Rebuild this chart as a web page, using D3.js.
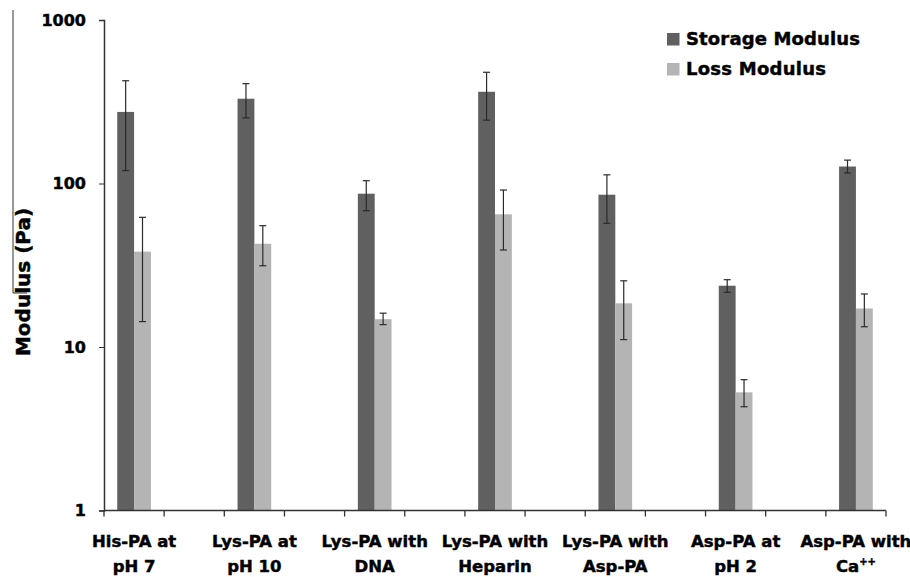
<!DOCTYPE html>
<html><head><meta charset="utf-8">
<script src="https://cdn.jsdelivr.net/npm/d3@7"></script>
<style>body{margin:0;background:#fff}svg{display:block}text{font-family:"DejaVu Sans",sans-serif;font-weight:bold;fill:#000;stroke:#000;stroke-width:0.45px}</style>
</head><body>
<svg id="c" width="910" height="577"></svg>
<script>
const categories = [["His-PA at","pH 7"],["Lys-PA at","pH 10"],["Lys-PA with","DNA"],["Lys-PA with","Heparin"],["Lys-PA with","Asp-PA"],["Asp-PA at","pH 2"],["Asp-PA with","Ca++"]];
const seriesNames = ["Storage Modulus","Loss Modulus"];
const storage = [274, 330, 86.6, 364, 85.4, 23.7, 127];
const storageLo = [120, 252, 68.2, 244, 57.1, 21.6, 116];
const storageHi = [425, 408, 104, 479, 113, 25.8, 139];
const loss = [38.3, 42.8, 14.8, 64.8, 18.5, 5.28, 17.2];
const lossLo = [14.3, 31.4, 13.7, 39.2, 11.1, 4.31, 13.3];
const lossHi = [62.1, 55.2, 16.1, 91.2, 25.4, 6.31, 21.1];
const yTicks = [1, 10, 100, 1000];
const colors = ["#606060", "#b4b4b4"];

const svg = d3.select("#c");
const slots = d3.range(categories.length * 2 - 1);
const x = d3.scaleBand().domain(slots).range([104, 886]).padding(0);
const y = d3.scaleLog().domain([1, 1000]).range([510.5, 20]);
const bw = x.bandwidth() * 0.28;

// frame artifact at left
svg.append("path").attr("d", "M13,10V293H27").attr("fill", "none").attr("stroke", "#333").attr("stroke-width", 1);

// bars
const series = [
  {vals: storage, lo: storageLo, hi: storageHi, off: -1},
  {vals: loss, lo: lossLo, hi: lossHi, off: 0}
];
series.forEach((s, si) => {
  const g = svg.append("g");
  s.vals.forEach((v, i) => {
    const cx = x(i * 2) + x.bandwidth() / 2;
    const x0 = cx + s.off * bw;
    g.append("rect").attr("x", x0).attr("width", bw).attr("y", y(v)).attr("height", y(1) - y(v)).attr("fill", colors[si]);
  });
});
series.forEach((s) => {
  const g = svg.append("g").attr("stroke", "#2a2a2a").attr("stroke-width", 1.2);
  s.vals.forEach((v, i) => {
    const cx = x(i * 2) + x.bandwidth() / 2 + (s.off + 0.5) * bw;
    g.append("line").attr("x1", cx).attr("x2", cx).attr("y1", y(s.lo[i])).attr("y2", y(s.hi[i]));
    g.append("line").attr("x1", cx - 3.5).attr("x2", cx + 3.5).attr("y1", y(s.lo[i])).attr("y2", y(s.lo[i]));
    g.append("line").attr("x1", cx - 3.5).attr("x2", cx + 3.5).attr("y1", y(s.hi[i])).attr("y2", y(s.hi[i]));
  });
});

// y axis
const yAxis = d3.axisLeft(y).tickValues(yTicks).tickFormat(d3.format("d")).tickSize(5).tickPadding(13);
const ya = svg.append("g").attr("transform", "translate(104,0)").call(yAxis);
ya.select(".domain").attr("stroke", "#333").attr("stroke-width", 1.5);
ya.selectAll(".tick line").attr("stroke", "#333");
ya.selectAll("text").style("font-size", "16px").style("font-family", "DejaVu Sans").style("font-weight", "bold").attr("fill", "#000");

// x axis
const bounds = slots.map(d => x(d)).concat([x.range()[1]]);
const xa = svg.append("g");
xa.append("line").attr("x1", 104).attr("x2", 886).attr("y1", y(1)).attr("y2", y(1)).attr("stroke", "#333").attr("stroke-width", 1.5);
xa.selectAll("line.t").data(bounds).join("line").attr("class", "t")
  .attr("x1", d => d).attr("x2", d => d).attr("y1", y(1)).attr("y2", y(1) + 6).attr("stroke", "#333").attr("stroke-width", 1.3);

categories.forEach((c, i) => {
  const cx = x(i * 2) + x.bandwidth() / 2;
  xa.append("text").attr("x", cx).attr("y", 547).attr("text-anchor", "middle").style("font-size", "16.5px").text(c[0]);
  const t = xa.append("text").attr("x", cx).attr("y", 572).attr("text-anchor", "middle").style("font-size", "16.5px");
  if (c[1].endsWith("++")) {
    t.text(c[1].slice(0, -2));
    t.append("tspan").attr("dy", -7).style("font-size", "10px").text("++");
  } else t.text(c[1]);
});

// y title
svg.append("text").attr("transform", "translate(30,282) rotate(-90)").attr("text-anchor", "middle").style("font-size", "20px").text("Modulus (Pa)");

// legend
seriesNames.forEach((n, i) => {
  const ly = 33 + i * 30;
  svg.append("rect").attr("x", 667).attr("y", ly).attr("width", 12.5).attr("height", 12.5).attr("fill", colors[i]);
  svg.append("text").attr("x", 686).attr("y", ly + 12).style("font-size", "18px").attr("textLength", i === 0 ? 174 : 140).text(n);
});
</script>
</body></html>
